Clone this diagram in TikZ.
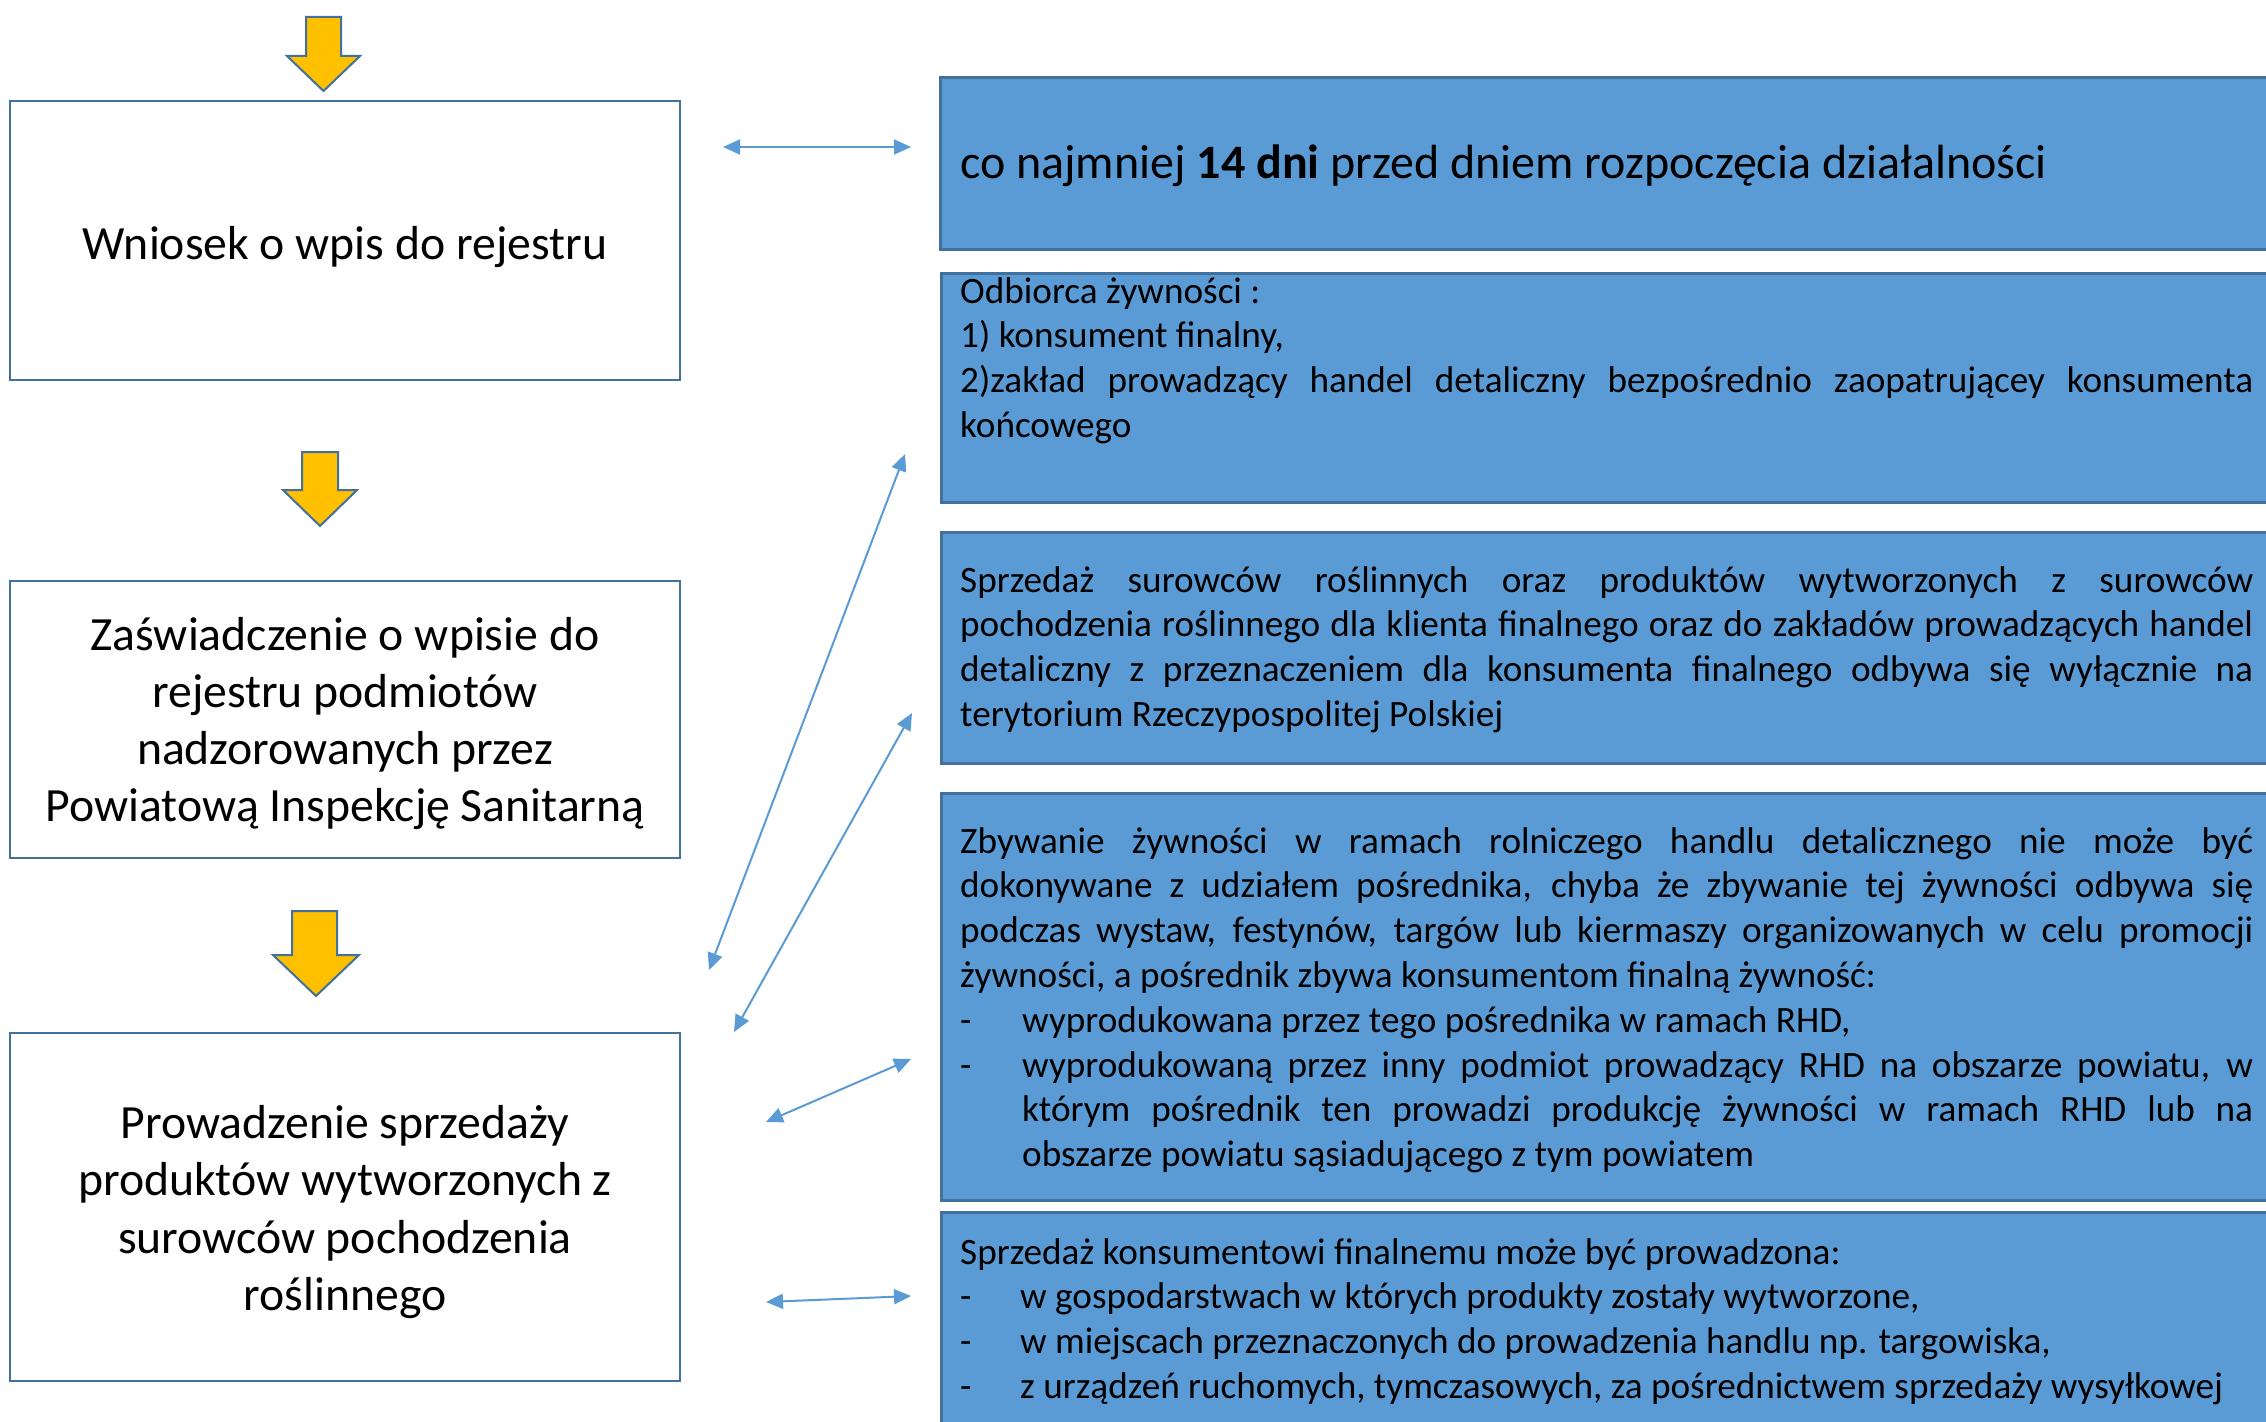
\documentclass[tikz,border=0pt]{standalone}
\usepackage{fontspec}
\setmainfont{Carlito}
\usetikzlibrary{arrows.meta}
\definecolor{boxblue}{HTML}{5B9BD5}
\definecolor{edgeblue}{HTML}{41719C}
\definecolor{goldarrow}{HTML}{FFC000}
\begin{document}
\begin{tikzpicture}[x=1pt,y=-1pt,
  leftbox/.style={draw=edgeblue, line width=2.5pt, fill=white, minimum width=670pt, inner sep=0pt},
  lefttext/.style={inner sep=0pt, align=center, font=\fontsize{47.7}{57.1}\selectfont},
  bluebox/.style={draw=edgeblue, line width=2.5pt, fill=boxblue, minimum width=1342pt, inner sep=0pt, anchor=north west},
  bodytext/.style={text width=1293pt, align=justify, inner sep=0pt, anchor=north west, font=\fontsize{37.2}{44.8}\selectfont},
  link/.style={draw=boxblue, line width=2pt, {Triangle[length=17pt,width=15pt]}-{Triangle[length=17pt,width=15pt]}},
  blockarrow/.style={draw=edgeblue, line width=2pt, fill=goldarrow, line join=miter}
]
\useasboundingbox (0,0) rectangle (2266,1421);
\clip (0,0) rectangle (2266,1421);
\fill[white] (0,0) rectangle (2266,1421);

% block arrows
\draw[blockarrow] (306,17) -- (341,17) -- (341,56) -- (360,56) -- (323.5,91) -- (287,56) -- (306,56) -- cycle;
\draw[blockarrow] (302,452) -- (338,452) -- (338,490) -- (357,490) -- (320,526) -- (283,490) -- (302,490) -- cycle;
\draw[blockarrow] (292,911) -- (337,911) -- (337,955) -- (359,955) -- (316,996) -- (273,955) -- (292,955) -- cycle;

% left boxes
\node[leftbox, minimum height=279pt] (wniosek) at (345,240.5) {};
\node[lefttext] (wniosekT) at (345,247.5) {Wniosek o wpis do rejestru};
\node[leftbox, minimum height=277pt] (zaswiad) at (345,719.5) {};
\node[lefttext] (zaswiadT) at (345,723.5) {Zaświadczenie o wpisie do\\ rejestru podmiotów\\ nadzorowanych przez\\ Powiatową Inspekcję Sanitarną};
\node[leftbox, minimum height=348pt] (prowadz) at (345,1207) {};
\node[lefttext] (prowadzT) at (345,1212) {Prowadzenie sprzedaży\\ produktów wytworzonych z\\ surowców pochodzenia\\ roślinnego};

% right boxes
\node[bluebox, minimum height=172pt] (b1) at (939,76) {};
\node[bluebox, minimum height=229pt] (b2) at (940,272) {};
\node[bluebox, minimum height=231pt] (b3) at (940,531) {};
\node[bluebox, minimum height=407pt] (b4) at (940,792) {};
\node[bluebox, minimum height=260pt] (b5) at (940,1211) {};

% texts
\node[anchor=base west, inner sep=0pt, font=\fontsize{48}{58}\selectfont] (t1) at (960,178) {co najmniej \textbf{14 dni} przed dniem rozpoczęcia działalności};

\node[bodytext] (t2) at (960,271.6) {\parindent=0pt\strut Odbiorca żywności :\par
1) konsument finalny,\par
2)zakład prowadzący handel detaliczny bezpośrednio zaopatrującey konsumenta\linebreak końcowego\par};

\node[bodytext] (t3) at (960,560.6) {\parindent=0pt\strut Sprzedaż surowców roślinnych oraz produktów wytworzonych z surowców\linebreak pochodzenia roślinnego dla klienta finalnego oraz do zakładów prowadzących handel\linebreak detaliczny z przeznaczeniem dla konsumenta finalnego odbywa się wyłącznie na\linebreak terytorium Rzeczypospolitej Polskiej\par};

\node[bodytext] (t4) at (960,821.6) {\parindent=0pt\strut Zbywanie żywności w ramach rolniczego handlu detalicznego nie może być\linebreak dokonywane z udziałem pośrednika, chyba że zbywanie tej żywności odbywa się\linebreak podczas wystaw, festynów, targów lub kiermaszy organizowanych w celu promocji\linebreak żywności, a pośrednik zbywa konsumentom finalną żywność:\par
\hangindent=62pt\hangafter=1\noindent\makebox[62pt][l]{-}wyprodukowana przez tego pośrednika w ramach RHD,\par
\hangindent=62pt\hangafter=1\noindent\makebox[62pt][l]{-}wyprodukowaną przez inny podmiot prowadzący RHD na obszarze powiatu, w\linebreak którym pośrednik ten prowadzi produkcję żywności w ramach RHD lub na\linebreak obszarze powiatu sąsiadującego z tym powiatem\par};

\node[bodytext] (t5) at (960,1232.6) {\parindent=0pt\strut Sprzedaż konsumentowi finalnemu może być prowadzona:\par
\hangindent=60pt\hangafter=1\noindent\makebox[60pt][l]{-}w gospodarstwach w których produkty zostały wytworzone,\par
\hangindent=60pt\hangafter=1\noindent\makebox[60pt][l]{-}w miejscach przeznaczonych do prowadzenia handlu np. targowiska,\par
\hangindent=60pt\hangafter=1\noindent\makebox[60pt][l]{-}z urządzeń ruchomych, tymczasowych, za pośrednictwem sprzedaży wysyłkowej\par};

% connector end points
\coordinate (a1s) at (723,147);
\coordinate (a1e) at (911,147);
\coordinate (a2s) at (709,970);
\coordinate (a2e) at (905,454);
\coordinate (a3s) at (734,1032);
\coordinate (a3e) at (912,713);
\coordinate (a4s) at (766,1122);
\coordinate (a4e) at (911,1059);
\coordinate (a5s) at (766,1302);
\coordinate (a5e) at (911,1296);

\draw[link] (a1s) -- (a1e);
\draw[link] (a2s) -- (a2e);
\draw[link] (a3s) -- (a3e);
\draw[link] (a4s) -- (a4e);
\draw[link] (a5s) -- (a5e);
\end{tikzpicture}
\end{document}
